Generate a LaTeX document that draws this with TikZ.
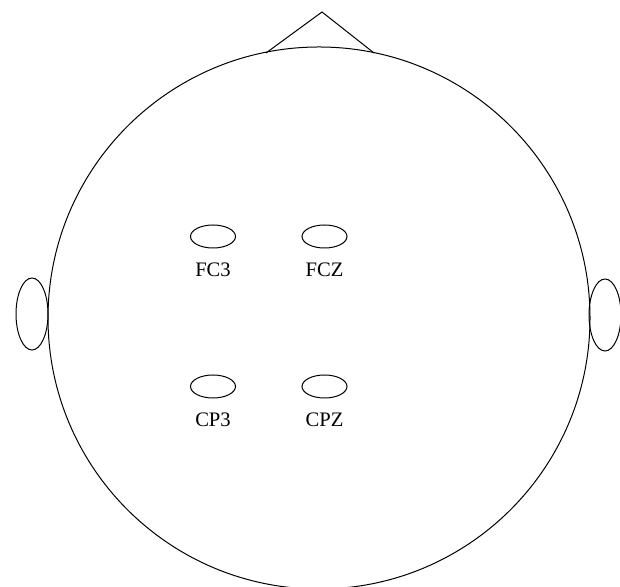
\documentclass[tikz,border=0pt]{standalone}
\usepackage{fontspec}
\setmainfont{Liberation Serif}
\usetikzlibrary{positioning,shapes.geometric}

\begin{document}
\begin{tikzpicture}[
    x=0.5pt, y=0.5pt,
    line width=0.5pt,
    electrode/.style={
        ellipse,
        draw,
        inner sep=0pt,
        minimum width=22.5pt,
        minimum height=11.5pt
    },
    elabel/.style={
        inner sep=0pt,
        font=\fontsize{10.3}{12}\selectfont
    },
    ear/.style={
        ellipse,
        draw,
        inner sep=0pt,
        minimum width=16pt,
        minimum height=36pt
    }
]
\useasboundingbox (0,0) rectangle (620,587);
\clip (0,0) rectangle (620,587);

% head and nose
\node[circle, draw, inner sep=0pt, minimum size=271pt] (head) at (319,269) {};
\coordinate (noseL) at (266,534);
\coordinate (noseR) at (374,534);
\coordinate (noseTip) at (322,575);
\draw (noseL) -- (noseTip) -- (noseR);

% ears
\node[ear] (earL) at (32,273) {};
\node[ear] (earR) at (605,272) {};

% electrodes
\node[electrode] (fc3) at (213,350.5) {};
\node[electrode] (fcz) at (324.5,350.5) {};
\node[electrode] (cp3) at (213,200.5) {};
\node[electrode] (cpz) at (324.5,200.5) {};

\node[elabel, below=7pt of fc3] (fc3l) {FC3};
\node[elabel, below=7pt of fcz] (fczl) {FCZ};
\node[elabel, below=7pt of cp3] (cp3l) {CP3};
\node[elabel, below=7pt of cpz] (cpzl) {CPZ};

\end{tikzpicture}
\end{document}
